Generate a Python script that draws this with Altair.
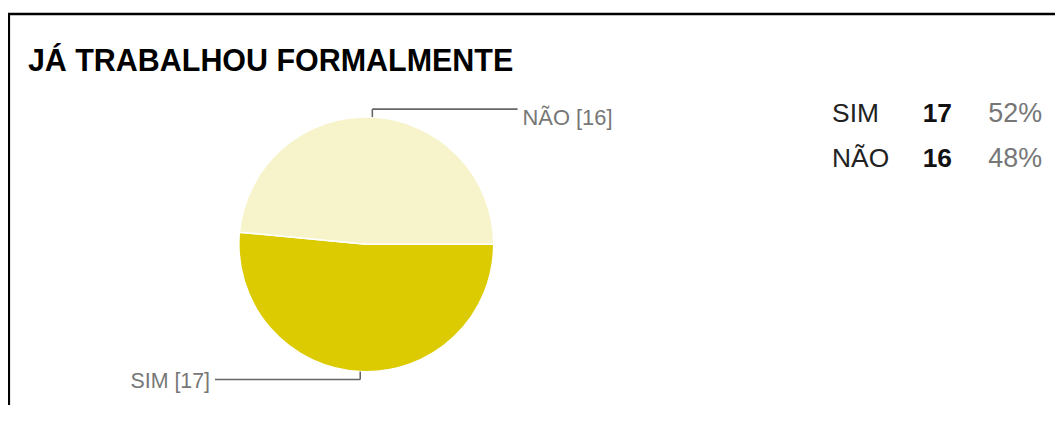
import math
import altair as alt
import pandas as pd

# ---- data ----
title_text = "JÁ TRABALHOU FORMALMENTE"
categories = ["SIM", "NÃO"]
counts = [17, 16]
order_idx = [0, 1]
colors = ["#dccb00", "#f7f4cc"]

df = pd.DataFrame({"cat": categories, "count": counts, "idx": order_idx})

# ---- layout (chart pixel space) ----
W, H = 1052, 398
CX, CY, R = 360, 236.5, 128
ELBOW = 8
ARM = 152
FONT = "Liberation Sans, Arial, sans-serif"

xs = alt.Scale(domain=[0, W], nice=False, zero=False)
ys = alt.Scale(domain=[0, H], nice=False, zero=False, reverse=True)

base = alt.Chart(df)

pie = base.mark_arc(outerRadius=R, stroke="white", strokeWidth=1.5).encode(
    theta=alt.Theta(
        "count:Q",
        stack=True,
        scale=alt.Scale(range=[math.pi / 2, math.pi / 2 + 2 * math.pi]),
    ),
    color=alt.Color(
        "cat:N", scale=alt.Scale(domain=categories, range=colors), legend=None
    ),
    order=alt.Order("idx:Q"),
    x=alt.value(CX),
    y=alt.value(CY),
)

geo = (
    base.transform_window(cum="sum(count)", sort=[alt.SortField("idx")])
    .transform_joinaggregate(total="sum(count)")
    .transform_calculate(
        mid=f"PI/2 + 2*PI*(datum.cum - datum.count/2)/datum.total",
    )
    .transform_calculate(
        x0=f"{CX} + {R}*sin(datum.mid)",
        y0=f"{CY} - {R}*cos(datum.mid)",
        hside="sin(datum.mid) >= 0 ? 1 : -1",
        vside="cos(datum.mid) > 0 ? -1 : 1",
        label="datum.cat + ' [' + datum.count + ']'",
    )
    .transform_calculate(
        y1=f"datum.y0 + datum.vside*{ELBOW}",
        xend=f"{CX} + datum.hside*{ARM}",
    )
    .transform_calculate(xt="datum.xend + datum.hside*5")
)

vrule = geo.mark_rule(color="#666666", strokeWidth=1.6).encode(
    x=alt.X("x0:Q", scale=xs, axis=None),
    y=alt.Y("y0:Q", scale=ys, axis=None),
    y2="y1:Q",
)
hrule = geo.mark_rule(color="#666666", strokeWidth=1.6).encode(
    x=alt.X("x0:Q", scale=xs, axis=None),
    x2="xend:Q",
    y=alt.Y("y1:Q", scale=ys, axis=None),
)

lab_right = geo.transform_filter("datum.hside > 0").mark_text(
    align="left", baseline="middle", dy=9, fontSize=22, font=FONT, color="#777777"
).encode(
    x=alt.X("xt:Q", scale=xs, axis=None),
    y=alt.Y("y1:Q", scale=ys, axis=None),
    text="label:N",
)
lab_left = geo.transform_filter("datum.hside < 0").mark_text(
    align="right", baseline="middle", dy=3, fontSize=21.5, font=FONT, color="#777777"
).encode(
    x=alt.X("xt:Q", scale=xs, axis=None),
    y=alt.Y("y1:Q", scale=ys, axis=None),
    text="label:N",
)

# ---- table legend ----
leg = (
    base.transform_joinaggregate(total="sum(count)")
    .transform_calculate(
        ly="114 + datum.idx*45",
        pct="round(datum.count/datum.total*100) + '%'",
    )
)
leg_name = leg.mark_text(
    align="left", baseline="alphabetic", fontSize=26.5, font=FONT, color="#222222"
).encode(x=alt.value(828), y=alt.Y("ly:Q", scale=ys, axis=None), text="cat:N")
leg_count = leg.mark_text(
    align="left", baseline="alphabetic", fontSize=26.5, font=FONT,
    fontWeight="bold", color="#111111"
).encode(x=alt.value(919), y=alt.Y("ly:Q", scale=ys, axis=None), text="count:Q")
leg_pct = leg.mark_text(
    align="left", baseline="alphabetic", fontSize=27, font=FONT, color="#777777"
).encode(x=alt.value(985), y=alt.Y("ly:Q", scale=ys, axis=None), text="pct:N")

# ---- title & frame ----
deco = alt.Chart(pd.DataFrame({"t": [title_text]}))
title = deco.mark_text(
    align="left", baseline="alphabetic", fontSize=30.6, fontWeight="bold",
    font=FONT, color="#000000"
).encode(x=alt.value(20), y=alt.value(62), text="t:N")
top_line = deco.mark_rule(color="#000000", strokeWidth=2.6).encode(
    x=alt.value(0), x2=alt.value(W), y=alt.value(5)
)
left_line = deco.mark_rule(color="#000000", strokeWidth=2.6).encode(
    x=alt.value(0.8), y=alt.value(4), y2=alt.value(H)
)

chart = (
    alt.layer(pie, vrule, hrule, lab_right, lab_left,
              leg_name, leg_count, leg_pct, title, top_line, left_line)
    .properties(width=W, height=H, autosize=alt.AutoSizeParams(type="none"),
                padding=0, background="white")
    .configure_view(strokeWidth=0)
)

chart.save("out.html", embed_options={"renderer": "svg", "actions": False})
